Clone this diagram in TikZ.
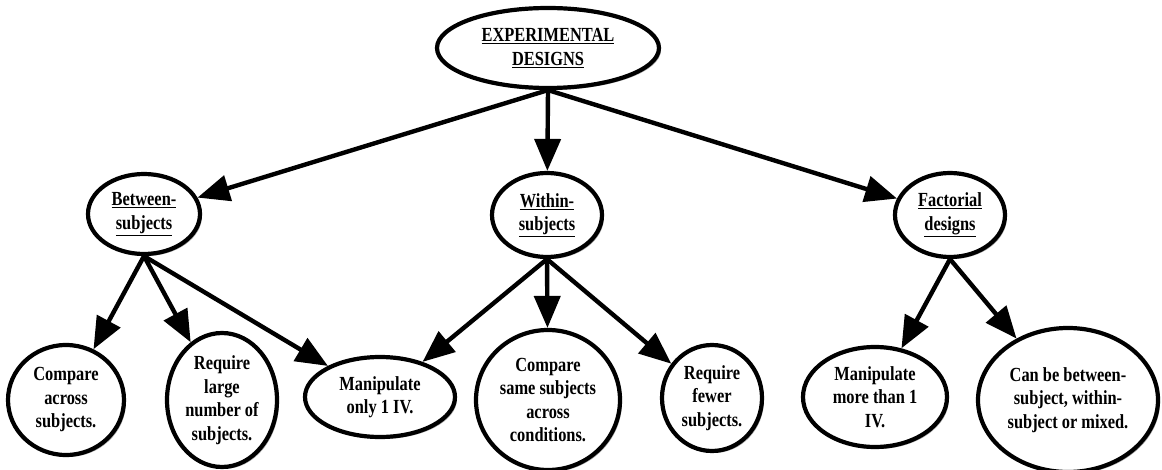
\documentclass[tikz,border=0pt]{standalone}
\usepackage{fontspec}
\setmainfont{Liberation Serif}[FakeStretch=0.82]
\usetikzlibrary{shapes.geometric,arrows.meta,shadows}
\tikzset{
  oval/.style={ellipse,draw=black,line width=4.2pt,fill=white,inner sep=0pt,
    align=center,font=\bfseries\fontsize{20}{23.5}\selectfont,
    drop shadow={shadow xshift=2pt,shadow yshift=-2pt,fill=black,opacity=.35}},
  link/.style={line width=4.4pt,-{Triangle[length=32pt,width=26pt]}}
}
\newcommand{\ul}[1]{\underline{#1}}
\begin{document}
\begin{tikzpicture}[x=1pt,y=-1pt]
\useasboundingbox (0,0) rectangle (1162,470);
\node[oval,minimum width=222pt,minimum height=80pt] (top) at (548,48) {\ul{EXPERIMENTAL}\\\ul{DESIGNS}};
\node[oval,minimum width=112pt,minimum height=80pt] (between) at (144,214) {\ul{Between-}\\\ul{subjects}};
\node[oval,minimum width=110pt,minimum height=84pt] (within) at (547,215) {\ul{Within-}\\\ul{subjects}};
\node[oval,minimum width=110pt,minimum height=84pt] (factorial) at (950,215) {\ul{Factorial}\\\ul{designs}};
\node[oval,minimum width=116pt,minimum height=110pt] (c1) at (66,400) {Compare\\across\\subjects.};
\node[oval,minimum width=110pt,minimum height=134pt] (c2) at (222,400) {Require\\large\\number of\\subjects.};
\node[oval,minimum width=150pt,minimum height=80pt] (c3) at (380,397) {Manipulate\\only 1 IV.};
\node[oval,minimum width=144pt,minimum height=140pt] (c4) at (548,400) {Compare\\same subjects\\across\\conditions.};
\node[oval,minimum width=100pt,minimum height=106pt] (c5) at (712,398) {Require\\fewer\\subjects.};
\node[oval,minimum width=144pt,minimum height=100pt] (c6) at (875,397) {Manipulate\\more than 1\\IV.};
\node[oval,minimum width=180pt,minimum height=144pt] (c7) at (1068,400) {Can be between-\\subject, within-\\subject or mixed.};
\draw[link] (top.south) -- (between);
\draw[link] (top.south) -- (within);
\draw[link] (top.south) -- (factorial);
\draw[link] (between.south) -- (c1);
\draw[link] (between.south) -- (c2);
\draw[link] (between.south) -- (c3);
\draw[link] (within.south) -- (c3);
\draw[link] (within.south) -- (c4);
\draw[link] (within.south) -- (c5);
\draw[link] (factorial.south) -- (c6);
\draw[link] (factorial.south) -- (c7);
\end{tikzpicture}
\end{document}
